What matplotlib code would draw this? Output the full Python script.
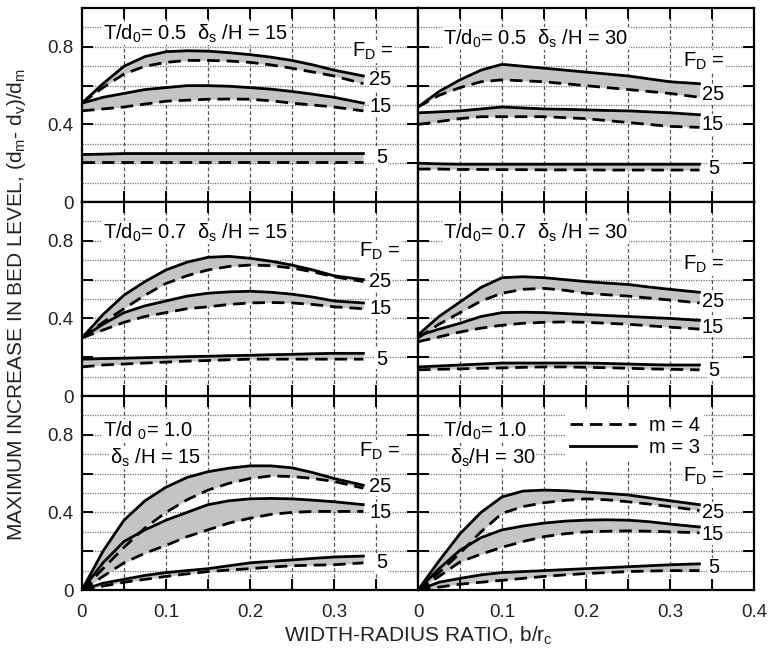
import numpy as np
import matplotlib
matplotlib.use('Agg')
import matplotlib.pyplot as plt
from matplotlib.lines import Line2D

plt.rcParams['font.family'] = ['Liberation Sans', 'DejaVu Sans']
plt.rcParams['mathtext.fontset'] = 'custom'
plt.rcParams['mathtext.rm'] = 'Liberation Sans'
plt.rcParams['mathtext.it'] = 'Liberation Sans:italic'

# b/rc values at which the curves were read
b_rc = [0, 0.025, 0.05, 0.075, 0.1, 0.125, 0.15, 0.175, 0.2, 0.225, 0.25, 0.275, 0.3, 0.335]

t_d0 = ['0.5', '0.5', '0.7', '0.7', '1.0', '1.0']
delta_h = ['15', '30', '15', '30', '15', '30']
froude = [25, 15, 5]

# m = 3 (solid) and m = 4 (dashed), one dict per panel, keyed by F_D
a_m3 = {25: [0.51, 0.61, 0.70, 0.75, 0.775, 0.78, 0.778, 0.77, 0.76, 0.747, 0.73, 0.707, 0.68, 0.65],
        15: [0.51, 0.54, 0.56, 0.58, 0.59, 0.60, 0.60, 0.597, 0.59, 0.582, 0.57, 0.556, 0.54, 0.51],
        5:  [0.245, 0.247, 0.25, 0.25, 0.25, 0.25, 0.25, 0.25, 0.25, 0.25, 0.25, 0.25, 0.25, 0.25]}
a_m4 = {25: [0.51, 0.59, 0.66, 0.70, 0.72, 0.73, 0.73, 0.727, 0.72, 0.707, 0.69, 0.67, 0.65, 0.61],
        15: [0.47, 0.48, 0.49, 0.505, 0.52, 0.525, 0.53, 0.531, 0.53, 0.522, 0.51, 0.50, 0.49, 0.47],
        5:  [0.205, 0.205, 0.205, 0.205, 0.205, 0.205, 0.205, 0.205, 0.205, 0.205, 0.205, 0.205, 0.205, 0.205]}

b_m3 = {25: [0.49, 0.57, 0.63, 0.68, 0.71, 0.70, 0.69, 0.68, 0.67, 0.66, 0.65, 0.635, 0.62, 0.61],
        15: [0.46, 0.465, 0.47, 0.48, 0.49, 0.485, 0.48, 0.478, 0.475, 0.472, 0.47, 0.465, 0.46, 0.45],
        5:  [0.20, 0.197, 0.195, 0.195, 0.195, 0.195, 0.195, 0.195, 0.195, 0.195, 0.195, 0.195, 0.195, 0.195]}
b_m4 = {25: [0.49, 0.55, 0.59, 0.62, 0.63, 0.625, 0.62, 0.61, 0.60, 0.59, 0.58, 0.57, 0.56, 0.54],
        15: [0.40, 0.415, 0.43, 0.44, 0.44, 0.44, 0.44, 0.435, 0.43, 0.42, 0.41, 0.40, 0.39, 0.385],
        5:  [0.17, 0.17, 0.168, 0.168, 0.167, 0.167, 0.166, 0.166, 0.166, 0.165, 0.165, 0.165, 0.165, 0.165]}

c_m3 = {25: [0.30, 0.42, 0.52, 0.59, 0.65, 0.69, 0.715, 0.72, 0.71, 0.695, 0.675, 0.65, 0.62, 0.60],
        15: [0.30, 0.37, 0.43, 0.465, 0.49, 0.515, 0.53, 0.537, 0.54, 0.535, 0.525, 0.51, 0.49, 0.48],
        5:  [0.19, 0.193, 0.195, 0.198, 0.20, 0.203, 0.205, 0.208, 0.21, 0.213, 0.215, 0.218, 0.22, 0.22]}
c_m4 = {25: [0.30, 0.38, 0.45, 0.52, 0.58, 0.62, 0.65, 0.668, 0.675, 0.672, 0.66, 0.64, 0.615, 0.59],
        15: [0.30, 0.34, 0.38, 0.41, 0.43, 0.45, 0.46, 0.472, 0.48, 0.482, 0.48, 0.472, 0.46, 0.45],
        5:  [0.15, 0.16, 0.165, 0.17, 0.175, 0.18, 0.183, 0.187, 0.19, 0.19, 0.19, 0.19, 0.19, 0.19]}

d_m3 = {25: [0.315, 0.41, 0.485, 0.56, 0.61, 0.615, 0.61, 0.60, 0.59, 0.582, 0.575, 0.562, 0.55, 0.535],
        15: [0.31, 0.345, 0.375, 0.41, 0.43, 0.432, 0.43, 0.425, 0.42, 0.415, 0.41, 0.405, 0.40, 0.39],
        5:  [0.15, 0.155, 0.16, 0.165, 0.17, 0.17, 0.17, 0.17, 0.17, 0.168, 0.165, 0.162, 0.16, 0.16]}
d_m4 = {25: [0.30, 0.37, 0.43, 0.49, 0.53, 0.55, 0.555, 0.545, 0.53, 0.522, 0.515, 0.505, 0.495, 0.48],
        15: [0.28, 0.305, 0.33, 0.35, 0.365, 0.375, 0.38, 0.382, 0.38, 0.375, 0.37, 0.362, 0.355, 0.345],
        5:  [0.135, 0.138, 0.14, 0.143, 0.145, 0.148, 0.15, 0.15, 0.148, 0.146, 0.143, 0.14, 0.138, 0.135]}

e_m3 = {25: [0, 0.20, 0.36, 0.46, 0.53, 0.58, 0.61, 0.628, 0.64, 0.64, 0.63, 0.605, 0.575, 0.54],
        15: [0, 0.14, 0.25, 0.31, 0.36, 0.40, 0.44, 0.46, 0.47, 0.472, 0.47, 0.463, 0.455, 0.44],
        5:  [0, 0.035, 0.055, 0.075, 0.09, 0.10, 0.11, 0.125, 0.14, 0.148, 0.155, 0.163, 0.17, 0.175]}
e_m4 = {25: [0, 0.11, 0.22, 0.32, 0.40, 0.465, 0.515, 0.55, 0.575, 0.588, 0.585, 0.575, 0.56, 0.525],
        15: [0, 0.07, 0.14, 0.19, 0.23, 0.275, 0.31, 0.345, 0.37, 0.39, 0.40, 0.405, 0.405, 0.405],
        5:  [0, 0.02, 0.04, 0.055, 0.07, 0.083, 0.095, 0.103, 0.11, 0.118, 0.125, 0.128, 0.13, 0.14]}

f_m3 = {25: [0, 0.15, 0.29, 0.40, 0.48, 0.51, 0.515, 0.512, 0.505, 0.498, 0.49, 0.475, 0.46, 0.44],
        15: [0, 0.11, 0.205, 0.27, 0.31, 0.33, 0.345, 0.355, 0.36, 0.362, 0.36, 0.352, 0.34, 0.325],
        5:  [0, 0.04, 0.06, 0.078, 0.09, 0.095, 0.10, 0.105, 0.11, 0.115, 0.12, 0.125, 0.13, 0.135]}
f_m4 = {25: [0, 0.09, 0.19, 0.30, 0.395, 0.43, 0.45, 0.462, 0.47, 0.465, 0.455, 0.443, 0.43, 0.41],
        15: [0, 0.07, 0.145, 0.185, 0.22, 0.25, 0.275, 0.29, 0.30, 0.303, 0.305, 0.303, 0.30, 0.295],
        5:  [0, 0.015, 0.03, 0.04, 0.05, 0.06, 0.07, 0.078, 0.085, 0.09, 0.095, 0.098, 0.10, 0.10]}

m3_sets = [a_m3, b_m3, c_m3, d_m3, e_m3, f_m3]
m4_sets = [a_m4, b_m4, c_m4, d_m4, e_m4, f_m4]

# label placement (axes data coords)
title_y = [0.839, 0.813, 0.813, 0.813, 0.79, 0.79]
fd_pos = [(0.322, 0.749), (0.315, 0.70), (0.33, 0.718), (0.315, 0.65), (0.33, 0.687), (0.315, 0.558)]
num_y = [(0.63, 0.49, 0.23), (0.555, 0.40, 0.175), (0.59, 0.45, 0.19),
         (0.485, 0.355, 0.13), (0.535, 0.40, 0.14), (0.40, 0.285, 0.115)]

FS = 14.5
fig = plt.figure(figsize=(7.72, 6.56), dpi=100)
lefts = [0.1062, 0.5415]
bottoms = [0.692, 0.3963, 0.1006]
W, H = 0.4352, 0.2957
white = dict(fc='white', ec='none', pad=0.5)

for i in range(6):
    r, c = divmod(i, 2)
    ax = fig.add_axes([lefts[c], bottoms[r], W, H])
    ax.set_xlim(0, 0.4)
    ax.set_ylim(0, 1.0)

    # background grid
    for gy in np.arange(0.1, 0.95, 0.1):
        ax.axhline(gy, color='#777777', lw=0.9, ls=(0, (1, 1)), zorder=0)
    for gx in np.arange(0.05, 0.36, 0.05):
        ax.axvline(gx, color='#555555', lw=0.9, ls=(0, (3, 2)), zorder=0)

    for fd in froude:
        s = m3_sets[i][fd]
        d = m4_sets[i][fd]
        ax.fill_between(b_rc, d, s, color='#c4c4c4', lw=0, zorder=1)
        ax.plot(b_rc, s, color='black', lw=2, zorder=3, solid_joinstyle='round')
        ax.plot(b_rc, d, color='black', lw=2, dashes=(4.5, 2.5), zorder=3)

    # panel annotations
    x0 = 0.025 if c == 0 else 0.03
    if r < 2:
        ax.text(x0, title_y[i], 'T/d$\\mathregular{_0}$= ' + t_d0[i] + '  δ$\\mathregular{_s}$ /H = ' + delta_h[i],
                fontsize=FS, va='baseline', bbox=white, zorder=4)
    else:
        gap = ' ' if c == 0 else ''
        ax.text(x0, title_y[i], 'T/d' + gap + '$\\mathregular{_0}$= ' + t_d0[i],
                fontsize=FS, va='baseline', bbox=white, zorder=4)
        ax.text(x0 + 0.008, title_y[i] - 0.137, 'δ$\\mathregular{_s}$' + gap + '/H = ' + delta_h[i],
                fontsize=FS, va='baseline', bbox=white, zorder=4)
    ax.text(fd_pos[i][0], fd_pos[i][1], 'F$\\mathregular{_D}$ =', fontsize=FS,
            va='baseline', bbox=white, zorder=4)
    nx = 0.342 if c == 0 else 0.338
    for fd, ny in zip(froude, num_y[i]):
        ax.text(nx + (0.008 if fd == 5 else 0), ny, str(fd), fontsize=FS,
                va='center', bbox=white, zorder=4)

    # ticks
    ax.set_xticks([0, 0.1, 0.2, 0.3, 0.4])
    ax.set_xticks([0.05, 0.15, 0.25, 0.35], minor=True)
    ax.set_yticks([0, 0.4, 0.8])
    ax.set_yticks([0.2, 0.6], minor=True)
    ax.tick_params(which='both', direction='in', length=8, width=1.4,
                   top=True, right=True, labelsize=13.5, labelcolor='#222222')
    ax.tick_params(axis='x', pad=10)
    ax.tick_params(axis='y', pad=6)
    if r == 2:
        ax.set_xticklabels(['0', '0.1', '0.2', '0.3', '0.4' if c == 1 else ''])
    else:
        ax.set_xticklabels([])
    if c == 0:
        ax.set_yticklabels(['0', '0.4', '0.8'])
    else:
        ax.set_yticklabels([])
    for sp in ax.spines.values():
        sp.set_linewidth(1.6)

    if i == 5:
        handles = [Line2D([], [], color='black', lw=2, dashes=(4.5, 2.5)),
                   Line2D([], [], color='black', lw=2)]
        leg = ax.legend(handles, ['m = 4', 'm = 3'], loc='center', bbox_to_anchor=(0.645, 0.79),
                        fontsize=FS, handlelength=3.3, handletextpad=0.6, labelspacing=0.15,
                        frameon=True, facecolor='white', edgecolor='none', framealpha=1,
                        borderpad=0.2)
        leg.set_zorder(5)

fig.text(0.022, 0.535, 'MAXIMUM INCREASE IN BED LEVEL, (d$\\mathregular{_m}$- d$\\mathregular{_v}$)/d$\\mathregular{_m}$',
         rotation=90, va='center', ha='center', fontsize=15, color='#222222')
fig.text(0.5415, 0.03, 'WIDTH-RADIUS RATIO, b/r$\\mathregular{_c}$', va='center', ha='center',
         fontsize=15, color='#222222')

plt.savefig('out.png', dpi=100)
